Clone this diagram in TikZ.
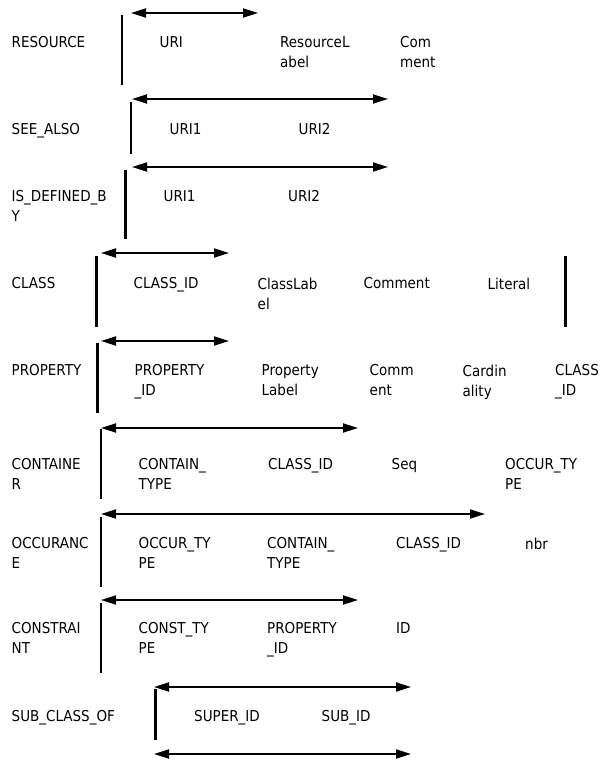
\documentclass[tikz,border=0pt]{standalone}
\usepackage{fontspec}
\usepackage{tikz}
\usetikzlibrary{arrows.meta,positioning}
\newfontfamily\tabfont{DejaVu Sans Condensed}
\tikzset{
  fld/.style={anchor=north west, inner sep=0pt, align=left,
    font=\tabfont\fontsize{15}{20}\selectfont},
  link/.style={{Triangle[length=15pt,width=9pt]}-{Triangle[length=15pt,width=9pt]},
    line width=1.8pt},
  bar/.style={line width=2.4pt},
}

\begin{document}
\begin{tikzpicture}[x=1pt,y=-1pt]
  \useasboundingbox (0,0) rectangle (607,760);
  % links between the tables
  \foreach \n/\y/\xa/\xb in {1/13/131/258, 2/99/132/388, 3/167/132/388,
      4/253/101/229, 5/341/101/229, 6/428/101/358, 7/514/101/485,
      8/600/101/358, 9/687/154/411, 10/754/154/411} {
    \coordinate (l\n a) at (\xa,\y);
    \coordinate (l\n b) at (\xb,\y);
    \draw[link] (l\n a) -- (l\n b);
  }
  % table bars
  \foreach \n/\x/\ya/\yb in {1/122/15/85, 2/131/102/154, 3/125.5/170/239,
      4/96.5/256/327, 4r/565.5/256/327, 5/97.5/343/413, 6/101/429/499,
      7/101/517/587, 8/101/603/673, 9/155.5/689/740} {
    \coordinate (b\n a) at (\x,\ya);
    \coordinate (b\n b) at (\x,\yb);
    \draw[bar] (b\n a) -- (b\n b);
  }
  % table names and their fields
  \foreach \n/\x/\y/\txt in {
      res/11.5/36.5/RESOURCE, resuri/159.5/36.5/URI, reslab/280/36.5/{ResourceL\\abel},
      rescom/400/36.5/{Com\\ment},
      see/11.5/123.5/SEE\_ALSO, seeu1/169.5/123.5/URI1, seeu2/298.5/123.5/URI2,
      isd/11.5/190.5/{IS\_DEFINED\_B\\Y}, isdu1/163.5/190.5/URI1, isdu2/288/190.5/URI2,
      cls/11.5/277.5/CLASS, clsid/133.5/277.5/CLASS\_ID, clslab/257.5/277.5/{ClassLab\\el},
      clscom/363.5/277.5/Comment, clslit/487.5/277.5/Literal,
      prp/11.5/364.5/PROPERTY, prpid/134.5/364.5/{PROPERTY\\\_ID},
      prplab/261.5/364.5/{Property\\Label}, prpcom/369.5/364.5/{Comm\\ent},
      prpcard/462.5/364.5/{Cardin\\ality}, prpcls/555/364.5/{CLASS\\\_ID},
      con/11.5/458.5/{CONTAINE\\R}, contyp/138.5/458.5/{CONTAIN\_\\TYPE},
      concls/268/458.5/CLASS\_ID, conseq/391.5/458.5/Seq, conocc/505/458.5/{OCCUR\_TY\\PE},
      occ/11.5/537.5/{OCCURANC\\E}, occtyp/138.5/537.5/{OCCUR\_TY\\PE},
      occcon/267/537.5/{CONTAIN\_\\TYPE}, occcls/396/537.5/CLASS\_ID, occnbr/525/537.5/nbr,
      cst/11.5/622.5/{CONSTRAI\\NT}, csttyp/138.5/622.5/{CONST\_TY\\PE},
      cstprp/267/622.5/{PROPERTY\\\_ID}, cstid/396/622.5/ID,
      sub/11.5/710.5/SUB\_CLASS\_OF, subsup/194/710.5/SUPER\_ID, subsub/321.5/710.5/SUB\_ID} {
    \node[fld] (\n) at (\x,\y) {\txt};
  }
\end{tikzpicture}
\end{document}
